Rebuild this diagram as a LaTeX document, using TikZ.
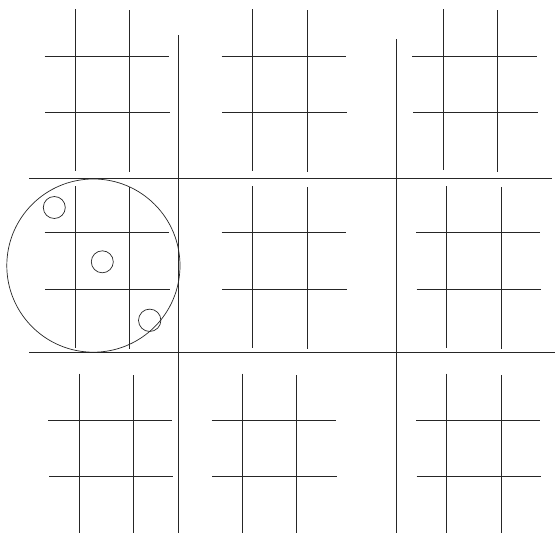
\documentclass[tikz,border=0pt]{standalone}
\begin{document}
\begin{tikzpicture}[x=1pt,y=-1pt,ln/.style={line width=0.7pt,black!85}]
\useasboundingbox (0,0) rectangle (555,533);
% big separators
\draw[ln] (178.3,35) -- (178.3,533);
\draw[ln] (396,39) -- (396,533);
\draw[ln] (29,178.3) -- (552,178.3);
\draw[ln] (29,352) -- (555,352);
% top-left grid
\draw[ln] (75.3,9) -- (75.3,171);
\draw[ln] (129.3,10) -- (129.3,171.5);
\draw[ln] (44.7,56) -- (169,56);
\draw[ln] (45.3,112) -- (170,112);
% top-middle grid
\draw[ln] (252.3,9) -- (252.3,170.5);
\draw[ln] (307,10) -- (307,171.5);
\draw[ln] (221.7,56) -- (345.7,56);
\draw[ln] (222.3,112) -- (346.7,112);
% top-right grid
\draw[ln] (443.3,9) -- (443.3,170.3);
\draw[ln] (497.3,10) -- (497.3,171.7);
\draw[ln] (412.3,56) -- (536.7,56);
\draw[ln] (413,112) -- (537.7,112);
% middle-left grid
\draw[ln] (75.3,186) -- (75.3,348);
\draw[ln] (129.3,187) -- (129.3,349);
\draw[ln] (44.7,232.3) -- (169,232.3);
\draw[ln] (45.3,289) -- (170,289);
% middle-middle grid
\draw[ln] (252.3,186) -- (252.3,348);
\draw[ln] (307,187) -- (307,349);
\draw[ln] (221.7,232.3) -- (345.7,232.3);
\draw[ln] (222.3,289) -- (346.7,289);
% middle-right grid
\draw[ln] (446.7,186) -- (446.7,348);
\draw[ln] (501,187) -- (501,349);
\draw[ln] (416,232.3) -- (540,232.3);
\draw[ln] (416.7,289) -- (541,289);
% bottom-left grid
\draw[ln] (79,373.7) -- (79,533);
\draw[ln] (133.3,375) -- (133.3,533);
\draw[ln] (48.3,420.7) -- (172.3,420.7);
\draw[ln] (49,476.3) -- (173.3,476.3);
% bottom-middle grid
\draw[ln] (242.3,373.7) -- (242.3,533);
\draw[ln] (296.7,375) -- (296.7,533);
\draw[ln] (211.7,420.7) -- (335.7,420.7);
\draw[ln] (212.3,476.3) -- (336.7,476.3);
% bottom-right grid
\draw[ln] (446.7,373.7) -- (446.7,533);
\draw[ln] (501,375) -- (501,533);
\draw[ln] (416,420.7) -- (540,420.7);
\draw[ln] (416.7,476.3) -- (541,476.3);
% circles
\draw[ln] (93.4,265.6) circle[radius=86.6];
\draw[ln] (54.3,207.5) circle[radius=11];
\draw[ln] (102.3,261.8) circle[radius=11];
\draw[ln] (149.7,320.3) circle[radius=11.2];
\end{tikzpicture}
\end{document}
